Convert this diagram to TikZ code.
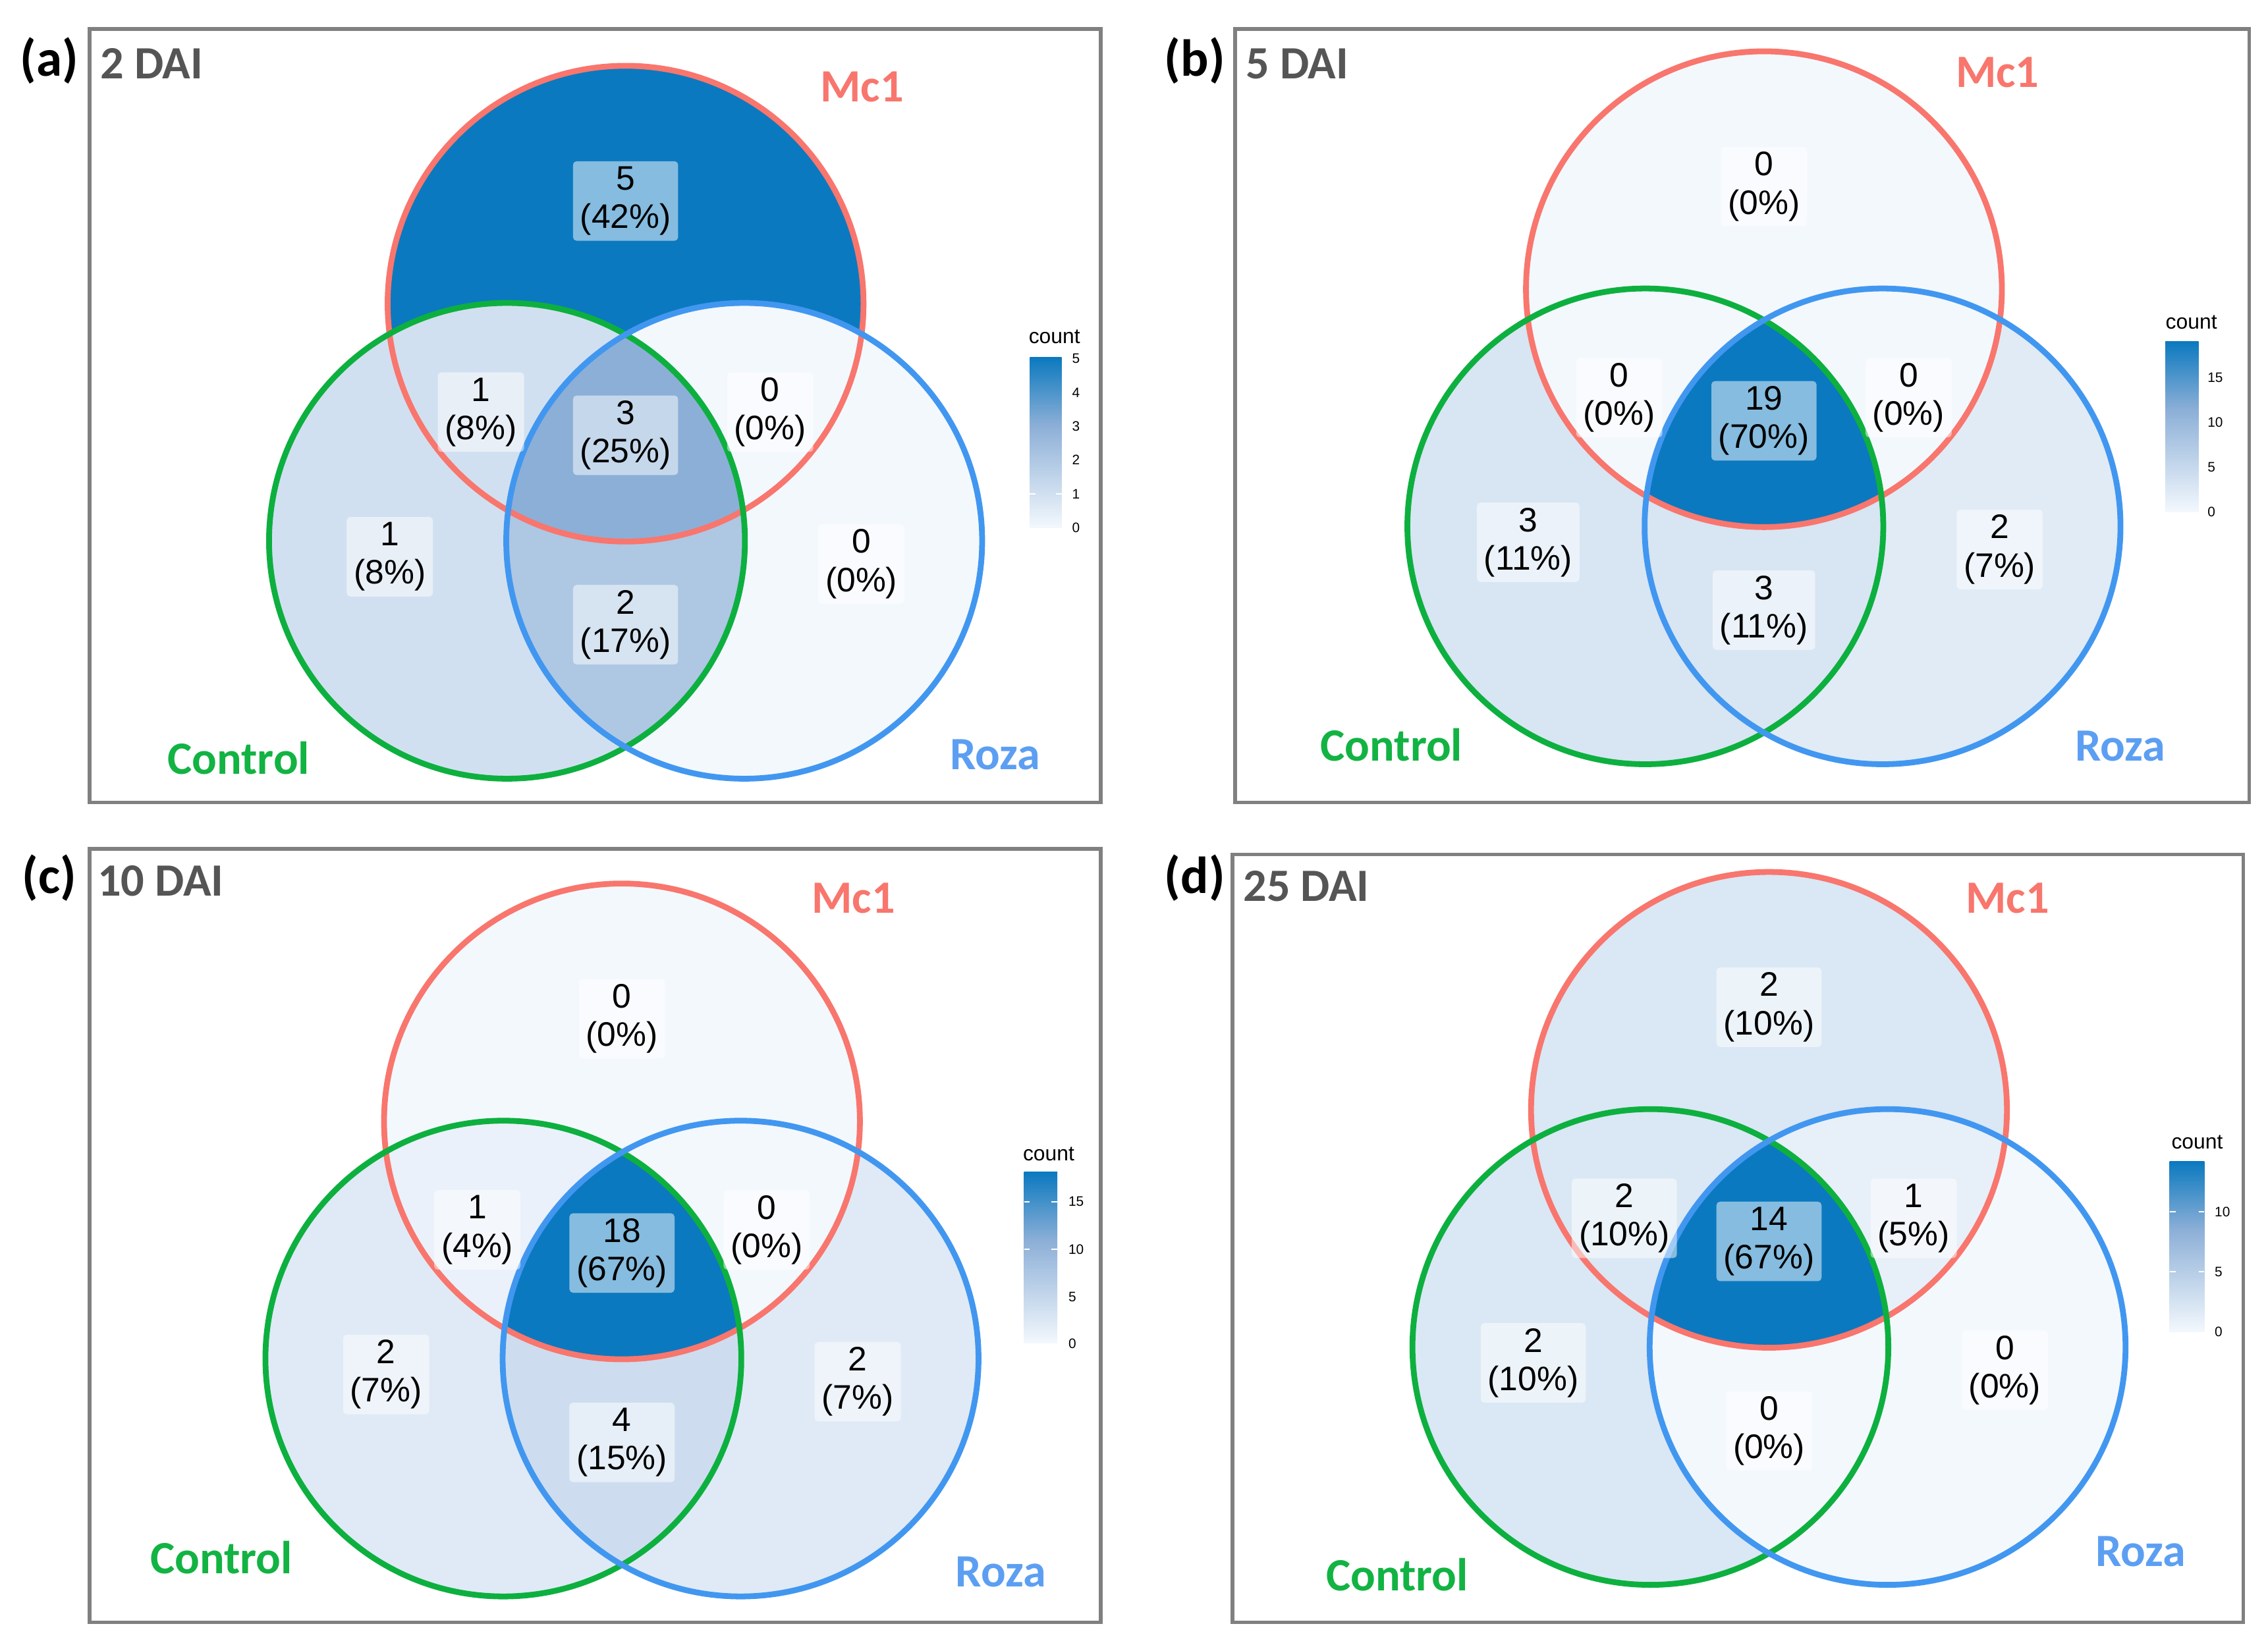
\documentclass[tikz,border=0pt]{standalone}
\usepackage{fontspec}
\setmainfont{Liberation Sans}
\newfontfamily\calb{Carlito}
\definecolor{vlow}{RGB}{243,248,253}
\definecolor{vmid}{RGB}{140,175,215}
\definecolor{vhigh}{RGB}{11,121,191}
\definecolor{cmc}{HTML}{F8766D}
\definecolor{cctl}{HTML}{0DB03F}
\definecolor{croz}{HTML}{4197F0}
\definecolor{lctl}{HTML}{12B343}
\definecolor{lroz}{HTML}{5C9FF2}
\definecolor{framegray}{HTML}{808080}
\definecolor{ttl}{HTML}{555555}
\pgfdeclareverticalshading{vgrad}{100bp}{color(0bp)=(vlow); color(25bp)=(vlow); color(55bp)=(vmid); color(75bp)=(vhigh); color(100bp)=(vhigh)}
\def\vr{164.5pt}
% fills: #1 M, #2 C, #3 R, #4 MC, #5 MR, #6 CR, #7 MCR
\newcommand{\vennfills}[7]{%
  \fill[#1] (0,0) circle[radius=\vr];
  \fill[#2] (-82,164) circle[radius=\vr];
  \fill[#3] (82,164) circle[radius=\vr];
  \begin{scope}\clip (0,0) circle[radius=\vr]; \fill[#4] (-82,164) circle[radius=\vr];\end{scope}
  \begin{scope}\clip (0,0) circle[radius=\vr]; \fill[#5] (82,164) circle[radius=\vr];\end{scope}
  \begin{scope}\clip (-82,164) circle[radius=\vr]; \fill[#6] (82,164) circle[radius=\vr];\end{scope}
  \begin{scope}\clip (0,0) circle[radius=\vr]; \clip (-82,164) circle[radius=\vr]; \fill[#7] (82,164) circle[radius=\vr];\end{scope}
  \draw[cmc, line width=4pt] (0,0) circle[radius=\vr];
  \draw[cctl, line width=4pt] (-82,164) circle[radius=\vr];
  \draw[croz, line width=4pt] (82,164) circle[radius=\vr];
}
% labels: #1 prefix, #2 M, #3 MC, #4 MCR, #5 MR, #6 C, #7 CR, #8 R
\newcommand{\vennlabels}[8]{%
  \node[lbl] (#1-M) at (0,-71) {#2};
  \node[lbl] (#1-MC) at (-100,75) {#3};
  \node[lbl] (#1-X) at (0,91) {#4};
  \node[lbl] (#1-MR) at (100,75) {#5};
  \node[lbl] (#1-C) at (-163,175) {#6};
  \node[lbl] (#1-CR) at (0,222) {#7};
  \node[lbl] (#1-R) at (163,180) {#8};
}
\tikzset{
  lbl/.style={fill=white, fill opacity=0.5, text opacity=1, rounded corners=2.5pt, align=center,
    inner xsep=5pt, inner ysep=3pt, minimum height=55pt, font=\fontsize{23.5}{26.5}\selectfont},
  setmc/.style={text=cmc, font=\calb\bfseries\fontsize{32}{36}\selectfont},
  setctl/.style={text=lctl, font=\calb\bfseries\fontsize{32}{36}\selectfont},
  setroz/.style={text=lroz, font=\calb\bfseries\fontsize{32}{36}\selectfont},
  panlbl/.style={font=\calb\bfseries\fontsize{36}{40}\selectfont},
  dai/.style={anchor=west, text=ttl, font=\calb\bfseries\fontsize{32}{36}\selectfont},
  cnt/.style={font=\fontsize{14.5}{16}\selectfont, inner sep=0pt},
  tck/.style={anchor=west, font=\fontsize{9.5}{11}\selectfont, inner sep=0pt},
  pframe/.style={draw=framegray, line width=2.5pt},
  wtick/.style={draw=white, line width=1pt}
}
\begin{document}
\begin{tikzpicture}[x=1pt,y=-1pt]
\useasboundingbox (0,0) rectangle (1568,1140);
\fill[white] (0,0) rectangle (1568,1140);

% ---------------- panel (a)
\draw[pframe] (62,20) rectangle (761,555);
\begin{scope}[shift={(432.5,210)}]
  \vennfills{vhigh}{vmid!33!vlow}{vlow}{vmid!33!vlow}{vlow}{vmid!67!vlow}{vmid}
  \vennlabels{a}{5\\(42\%)}{1\\(8\%)}{3\\(25\%)}{0\\(0\%)}{1\\(8\%)}{2\\(17\%)}{0\\(0\%)}
\end{scope}
\node[panlbl] (a-tag) at (34,42) {(a)};
\node[dai] (a-dai) at (66,44) {2 DAI};
\node[setmc] (a-mc1) at (596,60) {Mc1};
\node[setctl] (a-ctl) at (165,524) {Control};
\node[setroz] (a-roz) at (688,522) {Roza};
\node[cnt] (a-cnt) at (729,233) {count};
\shade[shading=vgrad] (712,247) rectangle (734,365);
\draw[wtick] (712,341.6) -- (716,341.6) (730,341.6) -- (734,341.6);
\node[tck] (a-t5) at (741,248) {5};
\node[tck] (a-t4) at (741,271.4) {4};
\node[tck] (a-t3) at (741,294.8) {3};
\node[tck] (a-t2) at (741,318.2) {2};
\node[tck] (a-t1) at (741,341.6) {1};
\node[tck] (a-t0) at (741,365) {0};

% ---------------- panel (b)
\draw[pframe] (854,20) rectangle (1555,555);
\begin{scope}[shift={(1219.5,200)}]
  \vennfills{vlow}{vmid!26!vlow}{vmid!18!vlow}{vlow}{vlow}{vmid!26!vlow}{vhigh}
  \vennlabels{b}{0\\(0\%)}{0\\(0\%)}{19\\(70\%)}{0\\(0\%)}{3\\(11\%)}{3\\(11\%)}{2\\(7\%)}
\end{scope}
\node[panlbl] (b-tag) at (826,42) {(b)};
\node[dai] (b-dai) at (858,44) {5 DAI};
\node[setmc] (b-mc1) at (1381,50) {Mc1};
\node[setctl] (b-ctl) at (962,515) {Control};
\node[setroz] (b-roz) at (1466,516) {Roza};
\node[cnt] (b-cnt) at (1515,223) {count};
\shade[shading=vgrad] (1497,236) rectangle (1520,354);
\node[tck] (b-t15) at (1526,261) {15};
\node[tck] (b-t10) at (1526,292) {10};
\node[tck] (b-t5) at (1526,323) {5};
\node[tck] (b-t0) at (1526,354) {0};

% ---------------- panel (c)
\draw[pframe] (62,587) rectangle (761,1122);
\begin{scope}[shift={(430,775.5)}]
  \vennfills{vlow}{vmid!19!vlow}{vmid!19!vlow}{vmid!9!vlow}{vlow}{vmid!37!vlow}{vhigh}
  \vennlabels{c}{0\\(0\%)}{1\\(4\%)}{18\\(67\%)}{0\\(0\%)}{2\\(7\%)}{4\\(15\%)}{2\\(7\%)}
\end{scope}
\node[panlbl] (c-tag) at (34,607) {(c)};
\node[dai] (c-dai) at (64,609) {10 DAI};
\node[setmc] (c-mc1) at (590,621) {Mc1};
\node[setctl] (c-ctl) at (153,1077) {Control};
\node[setroz] (c-roz) at (692,1087) {Roza};
\node[cnt] (c-cnt) at (725,798) {count};
\shade[shading=vgrad] (708,810.5) rectangle (731,929);
\draw[wtick] (708,831) -- (712,831) (727,831) -- (731,831) (708,864) -- (712,864) (727,864) -- (731,864);
\node[tck] (c-t15) at (738.5,831) {15};
\node[tck] (c-t10) at (738.5,864) {10};
\node[tck] (c-t5) at (738.5,897) {5};
\node[tck] (c-t0) at (738.5,929) {0};

% ---------------- panel (d)
\draw[pframe] (852,591) rectangle (1551,1122);
\begin{scope}[shift={(1223,767.5)}]
  \vennfills{vmid!24!vlow}{vmid!24!vlow}{vlow}{vmid!24!vlow}{vmid!12!vlow}{vlow}{vhigh}
  \vennlabels{d}{2\\(10\%)}{2\\(10\%)}{14\\(67\%)}{1\\(5\%)}{2\\(10\%)}{0\\(0\%)}{0\\(0\%)}
\end{scope}
\node[panlbl] (d-tag) at (826,607) {(d)};
\node[dai] (d-dai) at (856,613) {25 DAI};
\node[setmc] (d-mc1) at (1388,621) {Mc1};
\node[setctl] (d-ctl) at (966,1089) {Control};
\node[setroz] (d-roz) at (1480,1073) {Roza};
\node[cnt] (d-cnt) at (1519,790) {count};
\shade[shading=vgrad] (1500,803) rectangle (1524,921);
\draw[wtick] (1500,838) -- (1504,838) (1520,838) -- (1524,838) (1500,879.5) -- (1504,879.5) (1520,879.5) -- (1524,879.5);
\node[tck] (d-t10) at (1531,838) {10};
\node[tck] (d-t5) at (1531,879.5) {5};
\node[tck] (d-t0) at (1531,921) {0};
\end{tikzpicture}
\end{document}
